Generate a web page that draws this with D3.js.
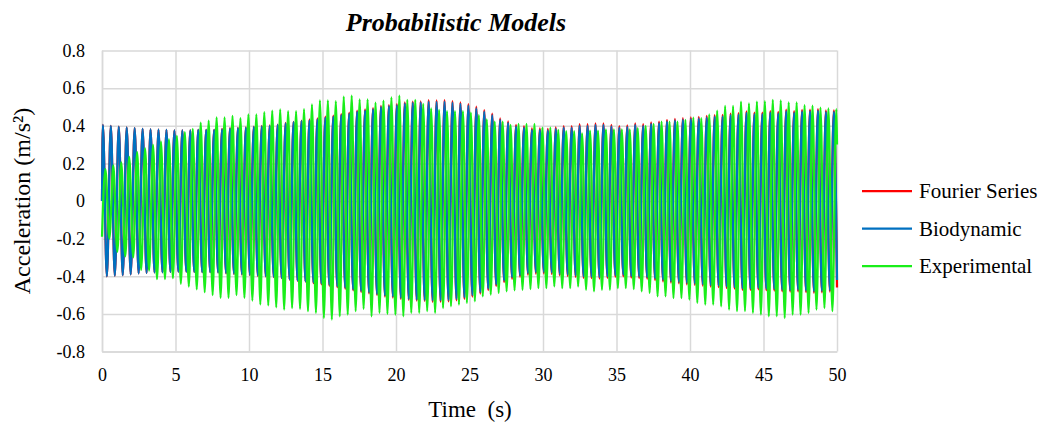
<!DOCTYPE html>
<html>
<head>
<meta charset="UTF-8">
<script src="https://cdn.jsdelivr.net/npm/d3@7"></script>
<style>
  body { margin: 0; background: #fff; }
  text { font-family: "Liberation Serif", "Times New Roman", serif; fill: #000; }
  .grid line, .grid path { stroke: #d9d9d9; stroke-width: 1.5; }
</style>
</head>
<body>
<svg id="chart" width="1046" height="432"></svg>
<script>
// --- data ---
var xTicks = [0, 5, 10, 15, 20, 25, 30, 35, 40, 45, 50];
var yTicks = [0.8, 0.6, 0.4, 0.2, 0, -0.2, -0.4, -0.6, -0.8];
var yTickLabels = ["0.8", "0.6", "0.4", "0.2", "0", "-0.2", "-0.4", "-0.6", "-0.8"];
var seriesNames = ["Fourier Series", "Biodynamic", "Experimental"];

// period of the oscillation (s) and time of first peak of each series
var period = 0.5405;
var firstPeak = [0.06, 0.06, 0.23];
var startValue = [0, 0, -0.19];
var endValue = [-0.46, -0.42, 0.30];

// successive peaks (maxima) and troughs (minima)
var fourierMax = [0.404, 0.399, 0.396, 0.392, 0.387, 0.383, 0.381, 0.380, 0.378, 0.376,
  0.376, 0.376, 0.378, 0.378, 0.378, 0.383, 0.387, 0.389, 0.392, 0.396,
  0.399, 0.402, 0.406, 0.415, 0.421, 0.427, 0.434, 0.439, 0.448, 0.454,
  0.462, 0.470, 0.480, 0.487, 0.494, 0.505, 0.510, 0.515, 0.524, 0.528,
  0.529, 0.536, 0.535, 0.536, 0.531, 0.524, 0.515, 0.501, 0.483, 0.465,
  0.439, 0.423, 0.405, 0.398, 0.386, 0.386, 0.384, 0.391, 0.398, 0.398,
  0.408, 0.408, 0.412, 0.412, 0.405, 0.398, 0.402, 0.412, 0.408, 0.418,
  0.422, 0.431, 0.436, 0.440, 0.445, 0.447, 0.452, 0.457, 0.458, 0.465,
  0.467, 0.476, 0.470, 0.470, 0.478, 0.474, 0.486, 0.478, 0.484, 0.486,
  0.489, 0.482, 0.482];
var fourierMin = [-0.400, -0.397, -0.394, -0.390, -0.385, -0.382, -0.380, -0.379, -0.377, -0.376,
  -0.376, -0.377, -0.378, -0.378, -0.380, -0.385, -0.388, -0.391, -0.394, -0.398,
  -0.401, -0.404, -0.410, -0.418, -0.424, -0.429, -0.437, -0.443, -0.451, -0.458,
  -0.466, -0.475, -0.483, -0.491, -0.500, -0.508, -0.513, -0.520, -0.526, -0.529,
  -0.531, -0.536, -0.536, -0.534, -0.528, -0.520, -0.508, -0.492, -0.474, -0.452,
  -0.431, -0.414, -0.402, -0.392, -0.386, -0.385, -0.388, -0.395, -0.398, -0.403,
  -0.408, -0.410, -0.412, -0.408, -0.402, -0.400, -0.407, -0.410, -0.413, -0.420,
  -0.427, -0.434, -0.438, -0.443, -0.446, -0.450, -0.455, -0.458, -0.462, -0.466,
  -0.472, -0.473, -0.470, -0.474, -0.476, -0.480, -0.482, -0.481, -0.485, -0.488,
  -0.486, -0.482];

var bioMax = [0.404, 0.399, 0.396, 0.392, 0.387, 0.383, 0.381, 0.380, 0.378, 0.376,
  0.376, 0.376, 0.378, 0.378, 0.378, 0.381, 0.385, 0.387, 0.390, 0.394,
  0.397, 0.400, 0.404, 0.413, 0.419, 0.425, 0.429, 0.434, 0.443, 0.449,
  0.457, 0.465, 0.475, 0.482, 0.489, 0.500, 0.505, 0.510, 0.519, 0.523,
  0.524, 0.528, 0.527, 0.528, 0.523, 0.516, 0.507, 0.493, 0.475, 0.457,
  0.431, 0.415, 0.397, 0.390, 0.378, 0.378, 0.376, 0.383, 0.390, 0.390,
  0.400, 0.400, 0.404, 0.404, 0.397, 0.390, 0.394, 0.404, 0.400, 0.410,
  0.414, 0.423, 0.428, 0.432, 0.437, 0.439, 0.444, 0.449, 0.450, 0.457,
  0.459, 0.468, 0.462, 0.462, 0.470, 0.466, 0.478, 0.470, 0.476, 0.478,
  0.481, 0.474, 0.474];
var bioMin = [-0.400, -0.397, -0.394, -0.390, -0.385, -0.382, -0.380, -0.379, -0.377, -0.376,
  -0.376, -0.377, -0.378, -0.378, -0.380, -0.383, -0.386, -0.389, -0.392, -0.396,
  -0.399, -0.402, -0.408, -0.416, -0.422, -0.427, -0.432, -0.438, -0.446, -0.453,
  -0.461, -0.470, -0.478, -0.486, -0.495, -0.503, -0.508, -0.515, -0.521, -0.524,
  -0.526, -0.528, -0.528, -0.526, -0.520, -0.512, -0.500, -0.484, -0.466, -0.444,
  -0.423, -0.406, -0.394, -0.384, -0.378, -0.377, -0.380, -0.387, -0.390, -0.395,
  -0.400, -0.402, -0.404, -0.400, -0.394, -0.392, -0.399, -0.402, -0.405, -0.412,
  -0.419, -0.426, -0.430, -0.435, -0.438, -0.442, -0.447, -0.450, -0.454, -0.458,
  -0.464, -0.465, -0.462, -0.466, -0.468, -0.472, -0.474, -0.473, -0.477, -0.480,
  -0.478, -0.474];

var expMax = [0.170, 0.190, 0.205, 0.235, 0.260, 0.280, 0.298, 0.316, 0.328, 0.346,
  0.366, 0.383, 0.417, 0.427, 0.445, 0.445, 0.452, 0.440, 0.461, 0.461,
  0.472, 0.480, 0.487, 0.478, 0.478, 0.489, 0.514, 0.535, 0.535, 0.531,
  0.555, 0.560, 0.540, 0.540, 0.523, 0.533, 0.551, 0.560, 0.537, 0.537,
  0.516, 0.493, 0.484, 0.478, 0.478, 0.478, 0.470, 0.457, 0.434, 0.422,
  0.422, 0.404, 0.410, 0.410, 0.410, 0.390, 0.390, 0.378, 0.372, 0.372,
  0.360, 0.374, 0.374, 0.381, 0.381, 0.381, 0.381, 0.387, 0.400, 0.410,
  0.422, 0.422, 0.422, 0.431, 0.443, 0.440, 0.461, 0.480, 0.505, 0.505,
  0.528, 0.519, 0.528, 0.531, 0.537, 0.535, 0.524, 0.524, 0.510, 0.507,
  0.496, 0.493, 0.489];
var expMin = [-0.200, -0.270, -0.295, -0.300, -0.366, -0.370, -0.415, -0.415, -0.410, -0.440,
  -0.455, -0.470, -0.485, -0.500, -0.515, -0.515, -0.500, -0.515, -0.530, -0.550,
  -0.555, -0.565, -0.577, -0.569, -0.574, -0.586, -0.595, -0.622, -0.630, -0.613,
  -0.604, -0.586, -0.574, -0.613, -0.595, -0.600, -0.604, -0.613, -0.595, -0.595,
  -0.586, -0.595, -0.569, -0.560, -0.551, -0.542, -0.533, -0.507, -0.498, -0.489,
  -0.480, -0.475, -0.472, -0.468, -0.463, -0.463, -0.454, -0.463, -0.463, -0.454,
  -0.472, -0.480, -0.472, -0.472, -0.463, -0.463, -0.468, -0.480, -0.489, -0.507,
  -0.507, -0.516, -0.516, -0.524, -0.542, -0.551, -0.551, -0.560, -0.577, -0.586,
  -0.586, -0.595, -0.604, -0.613, -0.613, -0.622, -0.604, -0.604, -0.595, -0.577,
  -0.569, -0.586];

var colors = ["#ff0000", "#0070c0", "#19ee19"];

// --- chart ---
var svg = d3.select("#chart");
var plotLeft = 102, plotRight = 837, plotTop = 50.5, plotBottom = 351.5;

var x = d3.scaleLinear().domain([0, 50]).range([plotLeft, plotRight]);
var y = d3.scaleLinear().domain([-0.8, 0.8]).range([plotBottom, plotTop]);

// grid + y labels
svg.append("g")
    .attr("class", "grid")
    .attr("transform", "translate(" + plotLeft + ",0)")
    .call(d3.axisLeft(y).tickValues(yTicks)
        .tickSizeInner(-(plotRight - plotLeft)).tickSizeOuter(0).tickPadding(17)
        .tickFormat(function(d, i) { return yTickLabels[i]; }))
    .call(function(g) {
        g.selectAll("text").attr("font-size", "18px").attr("font-family", "Liberation Serif").attr("fill", "#000");
    });

// grid + x labels
svg.append("g")
    .attr("class", "grid")
    .attr("transform", "translate(0," + plotBottom + ")")
    .call(d3.axisBottom(x).tickValues(xTicks)
        .tickSizeInner(-(plotBottom - plotTop)).tickSizeOuter(0).tickPadding(17)
        .tickFormat(d3.format("d")))
    .call(function(g) {
        g.selectAll("text").attr("font-size", "18px").attr("font-family", "Liberation Serif").attr("fill", "#000");
    });

// build the zig-zag point lists from peaks/troughs
function buildSeries(i, maxs, mins) {
    var pts = [{ t: 0, v: startValue[i] }];
    maxs.forEach(function(v, k) {
        pts.push({ t: firstPeak[i] + k * period, v: v });
        if (k < mins.length) pts.push({ t: firstPeak[i] + (k + 0.5) * period, v: mins[k] });
    });
    pts.push({ t: 50, v: endValue[i] });
    return pts;
}

var series = [
    buildSeries(0, fourierMax, fourierMin),
    buildSeries(1, bioMax, bioMin),
    buildSeries(2, expMax, expMin)
];

var line = d3.line()
    .x(function(d) { return x(d.t); })
    .y(function(d) { return y(d.v); })
    .curve(d3.curveMonotoneX);

svg.selectAll(".series")
    .data(series)
    .enter()
    .append("path")
    .attr("class", "series")
    .attr("fill", "none")
    .attr("stroke", function(d, i) { return colors[i]; })
    .attr("stroke-width", 2.25)
    .attr("stroke-linejoin", "round")
    .attr("d", line);

// title
svg.append("text")
    .attr("x", 456).attr("y", 31)
    .attr("text-anchor", "middle")
    .attr("font-size", "26px")
    .attr("font-weight", "bold")
    .attr("font-style", "italic")
    .text("Probabilistic Models");

// axis titles
svg.append("text")
    .attr("x", 470).attr("y", 417)
    .attr("text-anchor", "middle")
    .attr("font-size", "23px")
    .attr("xml:space", "preserve")
    .text("Time  (s)");

svg.append("text")
    .attr("transform", "translate(30,201) rotate(-90)")
    .attr("text-anchor", "middle")
    .attr("font-size", "24px")
    .text("Acceleration (m/s²)");

// legend
var legend = svg.append("g").selectAll("g")
    .data(seriesNames)
    .enter()
    .append("g")
    .attr("transform", function(d, i) { return "translate(862," + (191 + i * 37.5) + ")"; });

legend.append("line")
    .attr("x1", 0).attr("x2", 50)
    .attr("stroke", function(d, i) { return colors[i]; })
    .attr("stroke-width", 2.25);

legend.append("text")
    .attr("x", 57).attr("y", 7)
    .attr("font-size", "21px")
    .text(function(d) { return d; });
</script>
</body>
</html>
